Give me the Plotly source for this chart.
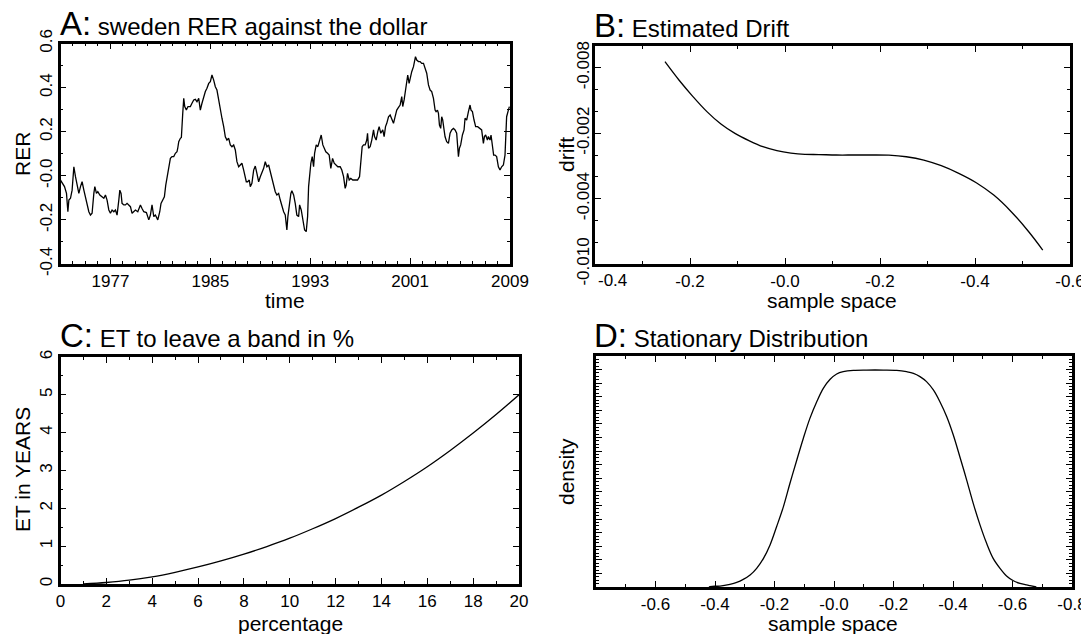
import plotly.graph_objects as go

# The page body has an 8px margin, so the figure is sized to fill the rest of the window.
OFF = 8
W, H = 1089 - OFF, 634 - OFF
FONT = "Liberation Sans, Arial, Helvetica, sans-serif"

# ---------------- Panel A: Swedish RER against the dollar ----------------
rer_year = [
    1973.00, 1973.21, 1973.32, 1973.48, 1973.59, 1973.67, 1973.80, 1973.93, 1974.07, 1974.20,
    1974.33, 1974.47, 1974.60, 1974.73, 1974.87, 1975.00, 1975.13, 1975.27, 1975.40, 1975.53,
    1975.67, 1975.75, 1975.88, 1975.99, 1976.15, 1976.33, 1976.47, 1976.60, 1976.73, 1976.87,
    1977.00, 1977.13, 1977.27, 1977.40, 1977.53, 1977.67, 1977.75, 1977.85, 1977.93, 1978.07,
    1978.20, 1978.33, 1978.47, 1978.60, 1978.73, 1978.87, 1979.00, 1979.19, 1979.40, 1979.53,
    1979.67, 1979.88, 1980.07, 1980.20, 1980.33, 1980.47, 1980.60, 1980.79, 1980.95, 1981.05,
    1981.21, 1981.32, 1981.43, 1981.53, 1981.67, 1981.80, 1981.93, 1982.07, 1982.20, 1982.33,
    1982.39, 1982.47, 1982.60, 1982.68, 1982.79, 1982.87, 1982.95, 1983.08, 1983.21, 1983.40,
    1983.53, 1983.67, 1983.80, 1983.93, 1984.07, 1984.20, 1984.33, 1984.47, 1984.60, 1984.73,
    1984.87, 1985.00, 1985.13, 1985.27, 1985.40, 1985.53, 1985.61, 1985.69, 1985.80, 1985.93,
    1986.07, 1986.20, 1986.33, 1986.47, 1986.60, 1986.73, 1986.87, 1987.00, 1987.13, 1987.27,
    1987.40, 1987.53, 1987.67, 1987.80, 1987.88, 1987.99, 1988.12,
    1988.20, 1988.33, 1988.47, 1988.60, 1988.73, 1988.87, 1989.00, 1989.13, 1989.27, 1989.40,
    1989.53, 1989.67, 1989.80, 1989.93, 1990.07, 1990.20, 1990.33, 1990.47, 1990.60, 1990.73,
    1990.87, 1991.00, 1991.13, 1991.21, 1991.32, 1991.45, 1991.53, 1991.67, 1991.80, 1991.93,
    1992.07, 1992.15, 1992.28, 1992.41, 1992.55, 1992.68, 1992.79, 1992.87, 1992.95, 1993.05,
    1993.16, 1993.27, 1993.35, 1993.48, 1993.61, 1993.75, 1993.88, 1994.01, 1994.12, 1994.25,
    1994.39, 1994.52, 1994.65, 1994.79, 1994.92, 1995.08, 1995.21, 1995.40, 1995.53, 1995.67,
    1995.80, 1995.88, 1995.99, 1996.12, 1996.25, 1996.41, 1996.60, 1996.79, 1996.95, 1997.05,
    1997.16, 1997.27, 1997.40, 1997.53, 1997.59, 1997.67, 1997.80, 1997.93, 1998.07, 1998.15,
    1998.28, 1998.41, 1998.52, 1998.65, 1998.81, 1998.92, 1999.03, 1999.13, 1999.27, 1999.40,
    1999.53, 1999.67, 1999.80, 1999.93, 2000.07, 2000.20, 2000.33, 2000.41, 2000.52, 2000.65,
    2000.73, 2000.81, 2000.92, 2001.00, 2001.13, 2001.27, 2001.35, 2001.43, 2001.53, 2001.67,
    2001.80, 2001.93, 2002.07, 2002.20, 2002.33, 2002.47, 2002.60, 2002.73, 2002.87, 2003.00,
    2003.08, 2003.19, 2003.27, 2003.35, 2003.45, 2003.53, 2003.61, 2003.72, 2003.80, 2003.93,
    2004.07, 2004.20, 2004.33, 2004.47, 2004.60, 2004.73, 2004.87, 2004.95, 2005.05, 2005.19,
    2005.32, 2005.40, 2005.53, 2005.67, 2005.80, 2005.88, 2005.99, 2006.12, 2006.25, 2006.41,
    2006.60, 2006.73, 2006.87, 2006.95, 2007.05, 2007.19, 2007.27, 2007.40, 2007.48, 2007.59,
    2007.69, 2007.80, 2007.93, 2008.07, 2008.20, 2008.33, 2008.47, 2008.60, 2008.73, 2008.87,
    2008.95,
]
rer_value = [
    -0.020, -0.042, -0.049, -0.080, -0.163, -0.110, -0.102, -0.065, 0.041, -0.004,
    -0.049, -0.080, -0.049, -0.027, -0.065, -0.095, -0.125, -0.163, -0.178, -0.170,
    -0.080, -0.049, -0.080, -0.072, -0.087, -0.095, -0.102, -0.087, -0.110, -0.155,
    -0.170, -0.155, -0.163, -0.155, -0.178, -0.110, -0.065, -0.080, -0.125, -0.132,
    -0.132, -0.125, -0.132, -0.140, -0.170, -0.163, -0.155, -0.163, -0.132, -0.148,
    -0.163, -0.167, -0.200, -0.178, -0.132, -0.185, -0.178, -0.200, -0.163, -0.125,
    -0.110, -0.095, -0.042, -0.004, 0.041, 0.079, 0.087, 0.087, 0.102, 0.109,
    0.125, 0.155, 0.170, 0.174, 0.283, 0.351, 0.314, 0.298, 0.314, 0.314,
    0.329, 0.344, 0.347, 0.336, 0.351, 0.298, 0.329, 0.359, 0.382, 0.397,
    0.419, 0.427, 0.457, 0.434, 0.404, 0.389, 0.359, 0.336, 0.298, 0.261,
    0.223, 0.177, 0.162, 0.170, 0.140, 0.132, 0.140, 0.117, 0.064, 0.041,
    0.049, 0.057, 0.026, -0.004, -0.027, -0.027, -0.019,
    -0.049, -0.034, 0.026, 0.044, 0.011, -0.027, -0.004, 0.011, 0.034, 0.064,
    0.041, 0.049, 0.019, -0.004, -0.049, -0.072, -0.087, -0.080, -0.110, -0.140,
    -0.163, -0.178, -0.246, -0.185, -0.132, -0.080, -0.068, -0.087, -0.125, -0.178,
    -0.185, -0.132, -0.155, -0.208, -0.246, -0.253, -0.185, -0.049, 0.011, 0.057,
    0.087, 0.041, 0.102, 0.140, 0.132, 0.162, 0.185, 0.140, 0.125, 0.109,
    0.102, 0.094, 0.034, 0.079, 0.057, 0.049, 0.041, 0.041, 0.026, -0.004,
    -0.057, -0.042, 0.011, -0.019, -0.012, -0.019, -0.019, -0.019, -0.004, 0.057,
    0.132, 0.140, 0.140, 0.162, 0.193, 0.125, 0.132, 0.162, 0.208, 0.178,
    0.162, 0.200, 0.223, 0.193, 0.208, 0.178, 0.223, 0.238, 0.268, 0.276,
    0.253, 0.238, 0.268, 0.298, 0.310, 0.321, 0.359, 0.314, 0.344, 0.404,
    0.434, 0.457, 0.419, 0.442, 0.472, 0.495, 0.518, 0.540, 0.525, 0.518,
    0.518, 0.510, 0.510, 0.487, 0.465, 0.412, 0.389, 0.382, 0.351, 0.298,
    0.291, 0.298, 0.283, 0.230, 0.215, 0.268, 0.253, 0.208, 0.177, 0.155,
    0.147, 0.193, 0.208, 0.215, 0.208, 0.193, 0.087, 0.125, 0.140, 0.185,
    0.208, 0.261, 0.253, 0.291, 0.321, 0.298, 0.291, 0.253, 0.223, 0.223,
    0.215, 0.208, 0.147, 0.178, 0.185, 0.162, 0.178, 0.162, 0.185, 0.140,
    0.094, 0.094, 0.087, 0.041, 0.026, 0.041, 0.049, 0.094, 0.268, 0.298,
    0.314,
]
a_xticks = [1977, 1985, 1993, 2001, 2009]
a_xticktext = ["1977", "1985", "1993", "2001", "2009"]
a_yticks = [-0.4, -0.2, 0.0, 0.2, 0.4, 0.6]
a_yticktext = ["-0.4", "-0.2", "-0.0", "0.2", "0.4", "0.6"]

# ---------------- Panel B: Estimated drift ----------------
drift_x = [-0.2527, -0.2233, -0.1938, -0.1644, -0.1349, -0.1054, -0.0760, -0.0465, -0.0171,
           0.0124, 0.0418, 0.0713, 0.1081, 0.1449, 0.1817, 0.2186, 0.2554, 0.2922, 0.3290,
           0.3658, 0.4027, 0.4395, 0.4763, 0.5131, 0.5426]
drift_y = [-0.00072, -0.00156, -0.00232, -0.00301, -0.00358, -0.00401, -0.00434, -0.00462,
           -0.00480, -0.00491, -0.00497, -0.00498, -0.00500, -0.00500, -0.00500, -0.00501,
           -0.00508, -0.00523, -0.00549, -0.00584, -0.00627, -0.00684, -0.00760, -0.00852,
           -0.00936]
b_xticks = [-0.4, -0.2, 0.0, 0.2, 0.4, 0.6]
b_xticktext = ["-0.4", "-0.2", "-0.0", "-0.2", "-0.4", "-0.6"]
b_yticks = [-0.010, -0.007, -0.004, -0.001]
b_yticktext = ["-0.010", "-0.004", "-0.002", "-0.008"]

# ---------------- Panel C: expected time to leave a band ----------------
et_pct = [1, 2, 3, 4, 5, 6, 7, 8, 9, 10, 11, 12, 13, 14, 15, 16, 17, 18, 19, 20]
et_years = [0.0, 0.04, 0.10, 0.19, 0.31, 0.45, 0.61, 0.79, 0.99, 1.21, 1.46, 1.73, 2.03,
            2.35, 2.71, 3.10, 3.53, 3.99, 4.48, 5.00]
c_xticks = [0, 2, 4, 6, 8, 10, 12, 14, 16, 18, 20]
c_yticks = [0, 1, 2, 3, 4, 5, 6]

# ---------------- Panel D: stationary distribution ----------------
dens_x = [-0.420, -0.417, -0.383, -0.350, -0.327, -0.305, -0.282, -0.260, -0.237, -0.215,
          -0.193, -0.170, -0.148, -0.125, -0.103, -0.081, -0.058, -0.036, -0.013, 0.009,
          0.031, 0.065, 0.110, 0.166, 0.211, 0.244, 0.267, 0.289, 0.311, 0.334,
          0.356, 0.379, 0.401, 0.423, 0.446, 0.468, 0.491, 0.513, 0.535, 0.558,
          0.580, 0.603, 0.625, 0.648, 0.659, 0.680]
dens_y = [0.0, 0.007, 0.014, 0.040, 0.068, 0.112, 0.177, 0.275, 0.422, 0.619,
          0.887, 1.183, 1.527, 1.870, 2.190, 2.482, 2.727, 2.924, 3.057, 3.135,
          3.169, 3.189, 3.193, 3.193, 3.189, 3.169, 3.145, 3.097, 3.023, 2.900,
          2.727, 2.506, 2.237, 1.918, 1.574, 1.231, 0.911, 0.643, 0.422, 0.275,
          0.163, 0.092, 0.054, 0.030, 0.020, 0.0]
d_xticks = [-0.6, -0.4, -0.2, 0.0, 0.2, 0.4, 0.6, 0.8]
d_xticktext = ["-0.6", "-0.4", "-0.2", "-0.0", "-0.2", "-0.4", "-0.6", "-0.8"]

# ---------------- figure ----------------
LINE = dict(color="black", width=1.3)
fig = go.Figure()
fig.add_trace(go.Scatter(x=rer_year, y=rer_value, mode="lines", line=LINE, xaxis="x", yaxis="y"))
fig.add_trace(go.Scatter(x=drift_x, y=drift_y, mode="lines", line=dict(LINE, shape="spline"),
                         xaxis="x2", yaxis="y2"))
fig.add_trace(go.Scatter(x=et_pct, y=et_years, mode="lines", line=dict(LINE, shape="spline"),
                         xaxis="x3", yaxis="y3"))
fig.add_trace(go.Scatter(x=dens_x, y=dens_y, mode="lines", line=dict(LINE, shape="spline"),
                         xaxis="x4", yaxis="y4"))

TICKFONT = dict(size=17, family=FONT, color="black")


def ax(**kw):
    base = dict(showline=True, linecolor="black", linewidth=2.5, mirror="ticks",
                ticks="inside", ticklen=6, tickwidth=1.2, tickcolor="black",
                showgrid=False, zeroline=False, fixedrange=True, automargin=False,
                tickfont=TICKFONT)
    base.update(kw)
    return base


# window pixel -> paper coordinates
def px(x):
    return (x - OFF) / W


def py(y):
    return 1 - (y - OFF) / H


def dx(a, b):
    return [px(a), px(b)]


def dy(top, bottom):
    return [py(bottom), py(top)]


def minor(d, t0=0):
    return dict(ticks="inside", ticklen=3, tickwidth=1, tickcolor="black", dtick=d, tick0=t0)


# the first B x label sits to the right of its tick (drawn as an annotation below)
b_xticktext_drawn = [""] + b_xticktext[1:]

fig.update_layout(
    width=W, height=H, margin=dict(l=0, r=0, t=0, b=0, autoexpand=False),
    paper_bgcolor="white", plot_bgcolor="white", showlegend=False,
    font=dict(family=FONT, color="black"),
    xaxis=ax(domain=dx(60.5, 510), range=[1973, 2009], anchor="y",
             tickmode="array", tickvals=a_xticks, ticktext=a_xticktext,
             minor=minor(1, 1973)),
    yaxis=ax(domain=dy(43.5, 264), range=[-0.4, 0.6], anchor="x",
             tickmode="array", tickvals=a_yticks, ticktext=a_yticktext, tickangle=-90,
             ticklabelstandoff=-1, minor=minor(0.1, 0)),
    xaxis2=ax(domain=dx(595, 1070), range=[-0.4, 0.6], anchor="y2",
              tickmode="array", tickvals=b_xticks, ticktext=b_xticktext_drawn,
              minor=minor(0.1, 0)),
    yaxis2=ax(domain=dy(46, 264), range=[-0.010, 0.0], anchor="x2",
              tickmode="array", tickvals=b_yticks, ticktext=b_yticktext, tickangle=-90,
              ticklabelstandoff=-4, minor=minor(0.001, 0)),
    xaxis3=ax(domain=dx(60.5, 519), range=[0, 20], anchor="y3",
              tickmode="array", tickvals=c_xticks, ticktext=[str(v) for v in c_xticks],
              minor=minor(1, 0)),
    yaxis3=ax(domain=dy(357, 584), range=[0, 6], anchor="x3",
              tickmode="array", tickvals=c_yticks, ticktext=[str(v) for v in c_yticks],
              tickangle=-90, ticklabelstandoff=-1, minor=minor(0.5, 0)),
    xaxis4=ax(domain=dx(596, 1072), range=[-0.8, 0.8], anchor="y4",
              tickmode="array", tickvals=d_xticks, ticktext=d_xticktext,
              minor=minor(0.1, 0)),
    yaxis4=ax(domain=dy(356, 587), range=[0, 3.4], anchor="x4", dtick=0.2,
              showticklabels=False, minor=minor(0.05, 0)),
)

fig.add_annotation(x=b_xticks[0], y=py(280), xref="x2", yref="paper",
                   xanchor="left", yanchor="middle", showarrow=False, xshift=1,
                   text=b_xticktext[0], font=TICKFONT)


def title(x, ybottom, letter, text):
    fig.add_annotation(x=px(x), y=py(ybottom), xref="paper", yref="paper",
                       xanchor="left", yanchor="bottom", showarrow=False,
                       text=f"<span style='font-size:33px'>{letter}:</span> {text}",
                       font=dict(size=24, family=FONT, color="black"))


title(58, 44, "A", "sweden RER against the dollar")
title(592, 46, "B", "Estimated Drift")
title(58, 356, "C", "ET to leave a band in %")
title(592, 356, "D", "Stationary Distribution")


def label(x, y, text, angle=0):
    fig.add_annotation(x=px(x), y=py(y), xref="paper", yref="paper",
                       xanchor="center", yanchor="middle", showarrow=False,
                       text=text, textangle=angle, borderpad=0,
                       font=dict(size=21, family=FONT, color="black"))


label(22, 154, "RER", -90)
label(285, 300, "time")
label(566, 155, "drift", -90)
label(832, 300, "sample space")
label(22, 470, "ET in YEARS", -90)
label(290, 623, "percentage")
label(566, 472, "density", -90)
label(833, 623, "sample space")

fig.write_html("out.html")
